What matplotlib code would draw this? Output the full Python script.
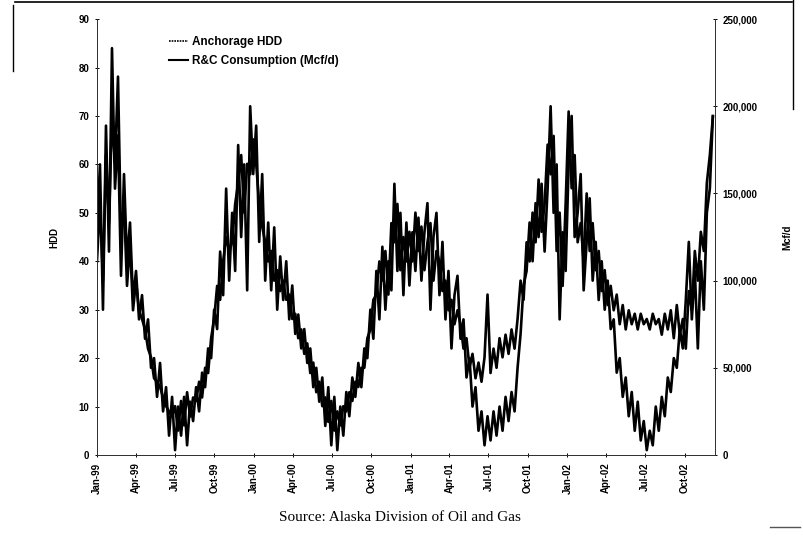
import numpy as np
import pandas as pd
import matplotlib
matplotlib.use("Agg")
import matplotlib.pyplot as plt
from matplotlib.lines import Line2D
from matplotlib.ticker import FuncFormatter

# weekly readings from the chart, starting 1 Jan 1999
start_date = "1999-01-01"

hdd = [
    46, 60, 30, 68, 42, 84, 55, 66, 37, 58, 40, 48, 32, 38, 28, 33, 24, 28, 18, 20,
    12, 19, 9, 14, 4, 12, 1, 10, 4, 12, 2, 11, 7, 14, 9, 17, 14, 22, 20, 30,
    26, 42, 33, 55, 36, 50, 38, 64, 45, 60, 34, 72, 58,
    68, 44, 58, 36, 48, 34, 47, 30, 41, 32, 40, 28, 35, 25, 29, 22, 26, 19, 22,
    14, 18, 11, 16, 6, 14, 2, 12, 1, 10, 4, 13, 8, 16, 12, 19, 14, 22, 20, 30,
    24, 38, 28, 43, 30, 40, 34, 56, 38, 50, 33, 48, 35,
    46, 38, 49, 36, 46, 52, 30, 45, 50, 33, 44, 28, 38, 22, 33, 37, 24, 28, 16, 20,
    10, 14, 5, 9, 2, 8, 3, 9, 4, 10, 5, 12, 7, 13, 9, 18, 25, 35, 38, 48,
    40, 52, 45, 56, 42, 55, 72, 50, 60, 28, 46, 38, 60,
    70, 45, 50, 58, 34, 44, 53, 36, 44, 32, 40, 30, 36, 26, 28, 17, 20, 12, 16, 8,
    13, 5, 11, 3, 7, 1, 5, 2, 10, 5, 12, 8, 16, 13, 20, 18, 26, 22, 32, 44,
    28, 38, 22, 40, 30, 50, 55, 70,
]

consumption = [
    111000, 144000, 100000, 172000, 133000, 194000, 167000, 217000, 125000, 144000,
    97000, 122000, 83000, 100000, 83000, 78000, 72000, 61000, 56000, 44000,
    42000, 39000, 33000, 28000, 25000, 22000, 28000, 14000, 31000, 17000,
    36000, 22000, 33000, 31000, 42000, 33000, 50000, 47000, 67000, 78000,
    97000, 89000, 111000, 125000, 117000, 122000, 144000, 156000, 172000, 139000,
    167000, 161000, 181000,
    167000, 144000, 131000, 122000, 111000, 117000, 100000, 106000, 94000, 100000,
    89000, 92000, 78000, 81000, 67000, 72000, 58000, 64000, 47000, 53000,
    36000, 42000, 28000, 33000, 19000, 31000, 14000, 25000, 17000, 28000,
    25000, 36000, 31000, 42000, 39000, 50000, 50000, 67000, 72000, 89000,
    92000, 111000, 100000, 117000, 92000, 133000, 122000, 144000, 106000, 125000,
    111000, 128000,
    111000, 139000, 117000, 131000, 106000, 122000, 133000, 100000, 117000, 111000,
    94000, 100000, 83000, 89000, 75000, 83000, 75000, 61000, 67000, 50000,
    58000, 44000, 53000, 42000, 56000, 92000, 47000, 61000, 50000, 67000,
    56000, 69000, 58000, 72000, 61000, 78000, 100000, 89000, 122000, 111000,
    139000, 122000, 158000, 128000, 144000, 178000, 161000, 183000, 117000, 139000,
    97000, 144000, 197000,
    153000, 172000, 122000, 133000, 111000, 150000, 117000, 133000, 106000, 117000,
    94000, 106000, 86000, 97000, 83000, 92000, 75000, 86000, 72000, 83000,
    75000, 81000, 72000, 81000, 75000, 78000, 72000, 81000, 75000, 78000,
    69000, 81000, 72000, 83000, 67000, 86000, 69000, 78000, 61000, 94000,
    83000, 117000, 100000, 128000, 117000, 156000, 172000, 194000,
]

tick_labels = ["Jan-99", "Apr-99", "Jul-99", "Oct-99", "Jan-00", "Apr-00", "Jul-00", "Oct-00",
               "Jan-01", "Apr-01", "Jul-01", "Oct-01", "Jan-02", "Apr-02", "Jul-02", "Oct-02"]

dates = pd.date_range(start_date, periods=len(hdd), freq="7D")
tick_dates = pd.date_range("1999-01-01", "2002-10-01", freq="QS")

bold = {"family": "Liberation Sans", "weight": "bold"}

fig = plt.figure(figsize=(8.04, 5.46), dpi=100)
ax = fig.add_axes([0.1206, 0.1667, 0.7687, 0.7983])
ax2 = ax.twinx()

ax.plot(dates, hdd, color="black", lw=1.9)
ax2.plot(dates, consumption, color="black", lw=1.9)

ax.set_xlim(pd.Timestamp("1999-01-01"), pd.Timestamp("2002-12-11"))
ax.set_ylim(0, 90)
ax2.set_ylim(0, 250000)
ax.set_yticks(np.arange(0, 91, 10))
ax2.set_yticks(np.arange(0, 250001, 50000))
ax2.yaxis.set_major_formatter(FuncFormatter(lambda v, p: f"{int(v):,}"))

ax.set_xticks(tick_dates)
ax.set_xticklabels(tick_labels, rotation=90, fontsize=7, **bold)
for a in (ax, ax2):
    for lab in a.get_yticklabels():
        lab.set_fontsize(7)
        lab.set_fontfamily("Liberation Sans")
        lab.set_fontweight("bold")

for a in (ax, ax2):
    a.spines["top"].set_visible(False)
    for s in ("left", "right", "bottom"):
        a.spines[s].set_linewidth(0.7)
        a.spines[s].set_color("#333333")
    a.tick_params(length=3, width=0.7, direction="inout", pad=4)

ax.set_ylabel("HDD", fontsize=7, labelpad=14, **bold)
ax2.set_ylabel("Mcf/d", fontsize=7, rotation=90, labelpad=18, **bold)

handles = [Line2D([], [], color="black", lw=1.2, ls=(0, (1, 0.6))),
           Line2D([], [], color="black", lw=1.5)]
ax.legend(handles, ["Anchorage HDD", "R&C Consumption (Mcf/d)"], loc="upper left",
          bbox_to_anchor=(0.1, 0.985), frameon=False, handlelength=1.6, handletextpad=0.3,
          labelspacing=0.6, prop={"family": "Liberation Sans", "weight": "bold", "size": 8.5})

fig.text(0.497, 0.053, "Source: Alaska Division of Oil and Gas", ha="center", va="center",
         fontsize=11, family="Liberation Serif")

# scanned frame bits
fig.add_artist(Line2D([0.019, 0.985], [0.996, 0.996], color="black", lw=1.2))
fig.add_artist(Line2D([0.016, 0.016], [0.99, 0.87], color="black", lw=1.0))
fig.add_artist(Line2D([0.986, 0.986], [1.0, 0.8], color="black", lw=1.0))
fig.add_artist(Line2D([0.958, 0.995], [0.035, 0.035], color="#555555", lw=1.0))

fig.savefig("out.png", dpi=100)
